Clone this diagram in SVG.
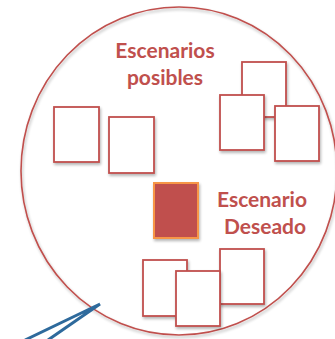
<svg xmlns="http://www.w3.org/2000/svg" width="335" height="339" viewBox="0 0 335 339">
<defs>
<filter id="sh" x="-20%" y="-20%" width="140%" height="140%">
<feGaussianBlur in="SourceAlpha" stdDeviation="1.5"/>
<feOffset dx="1" dy="2" result="b"/>
<feComponentTransfer><feFuncA type="linear" slope="0.3"/></feComponentTransfer>
<feMerge><feMergeNode/><feMergeNode in="SourceGraphic"/></feMerge>
</filter>
</defs>
<style>
.card{fill:#fff;stroke:#C0504D;stroke-width:1.8;filter:url(#sh)}
.lbl{font-family:Lato,"Liberation Sans",sans-serif;font-weight:bold;font-size:21px;fill:#C0504D;text-anchor:middle}
</style>
<rect width="335" height="339" fill="#fff"/>
<g id="universe">
<ellipse cx="179" cy="171" rx="158" ry="164" fill="none" stroke="#C0504D" stroke-width="1.6" filter="url(#sh)"/>
</g>
<g id="label-posibles">
<text class="lbl" x="165" y="58">Escenarios</text>
<text class="lbl" x="165" y="85">posibles</text>
</g>
<g id="card-a"><rect class="card" x="54" y="107" width="45" height="55"/></g>
<g id="card-b"><rect class="card" x="109" y="117" width="45" height="56"/></g>
<g id="card-c"><rect class="card" x="242" y="62" width="44" height="55"/></g>
<g id="card-d"><rect class="card" x="220" y="95" width="44" height="55"/></g>
<g id="card-e"><rect class="card" x="275" y="106" width="44" height="55"/></g>
<g id="card-desired"><rect x="154" y="183" width="44" height="55" fill="#C0504D" stroke="#F79646" stroke-width="2" filter="url(#sh)"/></g>
<g id="label-deseado">
<text class="lbl" x="262" y="207">Escenario</text>
<text class="lbl" x="265" y="234">Deseado</text>
</g>
<g id="card-g"><rect class="card" x="143" y="260" width="44" height="56"/></g>
<g id="card-i"><rect class="card" x="220" y="249" width="44" height="55"/></g>
<g id="card-h"><rect class="card" x="176" y="271" width="44" height="55"/></g>
<g id="connectors">
<polyline points="25,340 100,304 48,340" fill="none" stroke="#2E6A9C" stroke-width="3" stroke-linejoin="miter"/>
</g>
</svg>
